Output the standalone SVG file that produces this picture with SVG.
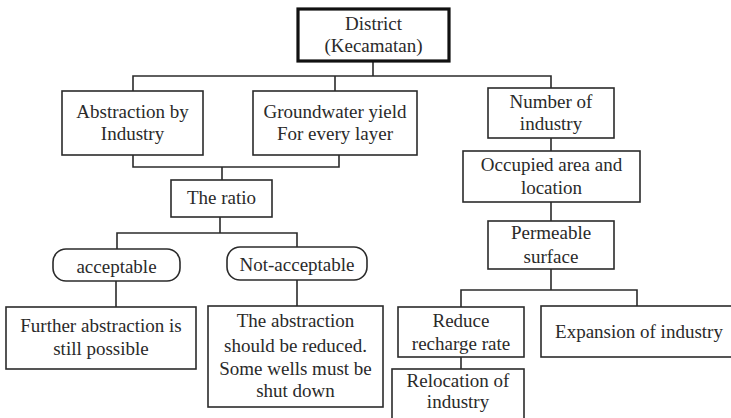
<svg xmlns="http://www.w3.org/2000/svg" width="731" height="418" viewBox="0 0 731 418">
  <style>
    .box { fill: #ffffff; stroke: #2b2b2b; stroke-width: 1.6; }
    .main { fill: #ffffff; stroke: #111111; stroke-width: 3.2; }
    .wire { fill: none; stroke: #2b2b2b; stroke-width: 1.6; }
    .lbl { font-family: "Liberation Serif", "Times New Roman", serif; font-size: 19px; fill: #2a2a2a; text-anchor: middle; }
  </style>
  <rect x="0" y="0" width="731" height="418" fill="#ffffff"/>

  <!-- connectors -->
  <g id="connectors">
    <path class="wire" d="M373 61 V76 M133 91 V76 H551 V88 M335 76 V91"/>
    <path class="wire" d="M133 155 V167 H339 V155 M222 167 V180"/>
    <path class="wire" d="M220 217 V233 M117 249 V233 H297 V247"/>
    <path class="wire" d="M116 281 V307 M297 280 V306"/>
    <path class="wire" d="M551 138 V151 M551 202 V221 M551 269 V290 M461 307 V290 H637 V306"/>
    <path class="wire" d="M461 357 V369"/>
  </g>

  <g id="district">
    <rect class="main" x="298" y="9" width="151" height="52"/>
    <text class="lbl" x="373.5" y="30">District</text>
    <text class="lbl" x="373.5" y="52">(Kecamatan)</text>
  </g>

  <g id="abstraction">
    <rect class="box" x="62" y="91" width="141" height="64"/>
    <text class="lbl" x="132.5" y="118">Abstraction by</text>
    <text class="lbl" x="132.5" y="140">Industry</text>
  </g>

  <g id="groundwater">
    <rect class="box" x="253" y="91" width="164" height="64"/>
    <text class="lbl" x="335" y="118">Groundwater yield</text>
    <text class="lbl" x="335" y="140">For every layer</text>
  </g>

  <g id="number">
    <rect class="box" x="488" y="88" width="126" height="50"/>
    <text class="lbl" x="551" y="108">Number of</text>
    <text class="lbl" x="551" y="130">industry</text>
  </g>

  <g id="occupied">
    <rect class="box" x="463" y="151" width="177" height="51"/>
    <text class="lbl" x="551.5" y="171">Occupied area and</text>
    <text class="lbl" x="551.5" y="194">location</text>
  </g>

  <g id="ratio">
    <rect class="box" x="171" y="180" width="101" height="37"/>
    <text class="lbl" x="221.5" y="204">The ratio</text>
  </g>

  <g id="permeable">
    <rect class="box" x="488" y="221" width="126" height="48"/>
    <text class="lbl" x="551" y="239">Permeable</text>
    <text class="lbl" x="551" y="263">surface</text>
  </g>

  <g id="acceptable">
    <rect class="box" x="53" y="249" width="127" height="32" rx="13"/>
    <text class="lbl" x="116.5" y="273">acceptable</text>
  </g>

  <g id="not-acceptable">
    <rect class="box" x="227" y="247" width="140" height="33" rx="13"/>
    <text class="lbl" x="297" y="271">Not-acceptable</text>
  </g>

  <g id="further">
    <rect class="box" x="6" y="307" width="190" height="62"/>
    <text class="lbl" x="101" y="332">Further abstraction is</text>
    <text class="lbl" x="101" y="355">still possible</text>
  </g>

  <g id="reduced">
    <rect class="box" x="208" y="306" width="175" height="101"/>
    <text class="lbl" x="295.5" y="327">The abstraction</text>
    <text class="lbl" x="295.5" y="352">should be reduced.</text>
    <text class="lbl" x="295.5" y="375">Some wells must be</text>
    <text class="lbl" x="295.5" y="397">shut down</text>
  </g>

  <g id="recharge">
    <rect class="box" x="398" y="307" width="126" height="50"/>
    <text class="lbl" x="461" y="327">Reduce</text>
    <text class="lbl" x="461" y="350">recharge rate</text>
  </g>

  <g id="expansion">
    <rect class="box" x="541" y="306" width="200" height="51"/>
    <text class="lbl" x="639" y="338">Expansion of industry</text>
  </g>

  <g id="relocation">
    <rect class="box" x="392" y="369" width="132" height="60"/>
    <text class="lbl" x="458" y="387">Relocation of</text>
    <text class="lbl" x="458" y="408">industry</text>
  </g>
</svg>
